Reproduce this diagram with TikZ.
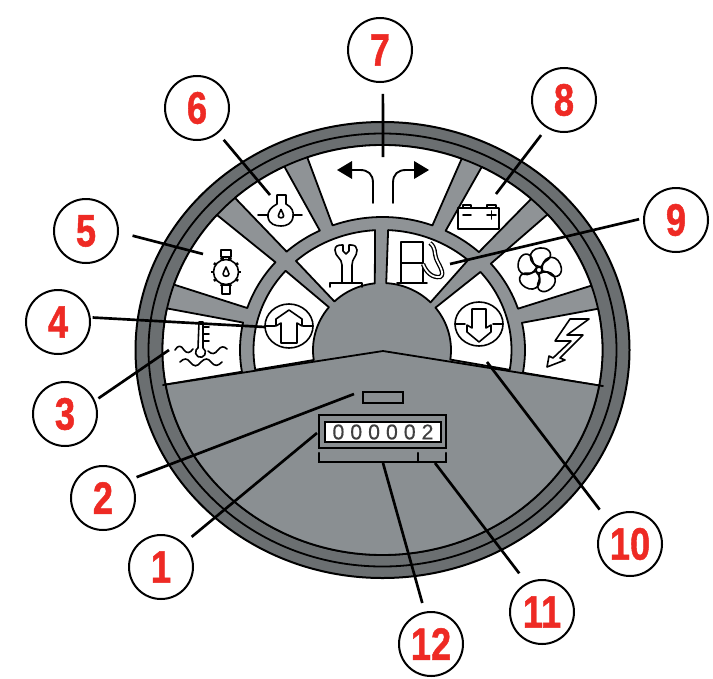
\documentclass[tikz,border=0pt]{standalone}
\usepackage{fontspec}
\usepackage{graphicx}
\usetikzlibrary{calc}
\setmainfont[BoldFeatures={FakeBold=1.2}]{Liberation Sans}
\newfontfamily\meterfont[LetterSpace=28,FakeBold=.4]{Liberation Sans}
\definecolor{rimgray}{HTML}{6B6F71}
\definecolor{bandgray}{HTML}{8F9396}
\definecolor{lowgray}{HTML}{8A8F92}
\definecolor{numred}{HTML}{EE2A24}
\tikzset{
  callout/.style={circle,draw=black,line width=1.5pt,fill=white,minimum size=48pt,inner sep=0pt,text=numred,font=\fontsize{34}{34}\bfseries},
  leader/.style={draw=black,line width=2pt},
  outl/.style={draw=black,line width=1.35pt,line join=round},
  cellbox/.style={outl,fill=white},
  icon/.style={draw=black,line width=1.2pt,line join=round,line cap=round},
  solidtip/.style={fill=black,draw=none}
}
% cell: outer arc (rx ry from to), then inner arc (cx rx ry from to), straight sides
\newcommand\wedgecell[9]{%
  \path[cellbox] plot[domain=#3:#4,samples=30] ({382.5+#1*cos(\x)},{350+#2*sin(\x)})
    -- plot[domain=#8:#9,samples=30] ({#5+#6*cos(\x)},{350+#7*sin(\x)}) -- cycle;}
\newcommand\oildrop[3]{%
  \draw[icon,shift={(#1,#2)},scale=#3] (0,-5) .. controls (1,-2) and (3,0) .. (3,2) .. controls (3,5) and (-3,5) .. (-3,2) .. controls (-3,0) and (-1,-2) .. (0,-5) -- cycle;}
\newcommand\bignum[1]{\scalebox{.8}[1]{#1}}
\begin{document}
\begin{tikzpicture}[x=.75pt,y=-.75pt]
\useasboundingbox (0,0) rectangle (713,678);
\fill[white] (0,0) rectangle (713,678);
% rim
\coordinate (hubc) at (382.5,350);
\path[fill=rimgray,outl,line width=1.5pt] (hubc) ellipse [x radius=247,y radius=228];
\path[outl] (hubc) ellipse [x radius=234,y radius=216.5];
\path[fill=bandgray,outl] (hubc) ellipse [x radius=220,y radius=205];
% hub
\fill[lowgray] (382,350) ellipse [x radius=69,y radius=67];
% outer cells
\wedgecell{220}{205}{170.3}{191.7}{382.5}{142.5}{133}{191.9}{170.6}
\wedgecell{220}{205}{198.6}{221.2}{382.5}{142.5}{133}{221.3}{198.4}
\wedgecell{220}{205}{227.9}{243.5}{382.5}{142.5}{133}{243.9}{227.7}
\wedgecell{220}{205}{250}{291.1}{382.5}{142.5}{133}{290.5}{249.5}
\wedgecell{220}{205}{296.8}{312.5}{382.5}{142.5}{133}{312.6}{296.3}
\wedgecell{220}{205}{318.6}{341.7}{382.5}{142.5}{133}{341.9}{319.5}
\wedgecell{220}{205}{348.4}{370}{382.5}{142.5}{133}{369.8}{348.2}
% inner cells
\wedgecell{129}{120}{170.5}{221.3}{382}{69}{67}{219.7}{171.4}
\wedgecell{129}{120}{227.9}{266.7}{382}{69}{67}{264}{226.4}
\wedgecell{129}{120}{272.5}{311.5}{382}{69}{67}{314.7}{273.5}
\wedgecell{129}{120}{319.4}{369.5}{382}{69}{67}{368.2}{320.8}
% lower panel
\path[outl,fill=lowgray] (163,385) -- (383,351) -- (603,386)
  -- plot[domain=10:170.3,samples=80] ({382.5+220*cos(\x)},{350+205*sin(\x)}) -- cycle;
% turn arrows
\draw[icon,line width=1.4pt] (373,203) -- (373,183) .. controls (373,174) and (368,170) .. (360,170) -- (350,170);
\draw[icon,line width=1.4pt] (393,203) -- (393,183) .. controls (393,174) and (398,170) .. (406,170) -- (416,170);
\fill[solidtip] (337,170) -- (352,161) -- (352,179) -- cycle;
\fill[solidtip] (429,170) -- (414,161) -- (414,179) -- cycle;
% thermometer and waves
\draw[icon] (199,322) -- (203,322) -- (203,348) arc[start angle=-60,end angle=240,radius=5] -- (199,322);
\draw[icon] (203,327) -- (209,327) (203,334) -- (209,334) (203,341) -- (209,341);
\draw[icon] (175,350) .. controls (178,345) and (181,345) .. (184,350) .. controls (187,354) and (190,353) .. (193,349);
\draw[icon] (208,351) .. controls (212,355) and (215,354) .. (218,350) .. controls (221,346) and (224,346) .. (227,349);
\draw[icon] (180,362) .. controls (184,358) and (187,358) .. (190,362) .. controls (194,367) and (197,367) .. (201,362) .. controls (205,358) and (208,358) .. (211,362) .. controls (215,367) and (218,366) .. (222,362);
% oil filter
\draw[icon] (226,272) circle [radius=12.5];
\foreach \a in {0,36,...,324}{\draw[icon,line width=1.9pt,line cap=butt] ($(226,272)+(\a:12.5)$) -- ($(226,272)+(\a:15)$);}
\draw[icon] (221,250) rectangle (231,257);
\draw[icon] (223,257) -- (223,260) (229,257) -- (229,260);
\draw[icon] (222,285) rectangle (230,294);
\oildrop{226}{272}{1}
% oil lamp
\draw[icon] (277,195) -- (286,195) -- (286,204) .. controls (292,207) and (294,212) .. (293,217) .. controls (292,224) and (286,226) .. (281,226) .. controls (275,226) and (269,224) .. (268,217) .. controls (267,212) and (271,207) .. (277,204) -- cycle;
\draw[icon] (258,215) -- (268,215) (293,215) -- (302,215);
\oildrop{281}{214}{.9}
% up arrow
\draw[icon] (289,326) ellipse [x radius=24,y radius=22];
\draw[icon] (265,326) -- (275,326) (303,326) -- (313,326);
\path[fill=white,icon] (289,310) -- (302,319) -- (302,326) -- (297,323) -- (297,343) -- (281,343) -- (281,323) -- (276,326) -- (276,319) -- cycle;
% wrench
\draw[icon] (342,282) -- (342,265) .. controls (342,258) and (335,257) .. (335,250) .. controls (335,246) and (338,245) .. (342,245) -- (343,245) -- (343,251) -- (346,254) -- (349,251) -- (349,245) -- (351,245) .. controls (355,245) and (357,247) .. (357,250) .. controls (357,257) and (352,258) .. (352,265) -- (352,282);
\draw[icon] (330,287) -- (330,283) -- (362,283) -- (362,287);
% fuel pump
\draw[icon] (401,283) -- (401,242) -- (423,242) -- (423,283);
\draw[icon] (401,263) -- (423,263);
\draw[icon] (397,283) -- (427,283);
\draw[black,double=white,double distance=1.3pt,line width=1pt] (423,264) .. controls (426,272) and (432,278) .. (440,277) .. controls (446,274) and (438,264) .. (436,258) .. controls (434,252) and (436,248) .. (430,243);
% battery
\draw[icon] (458,208) rectangle (499,229);
\draw[icon] (463,208) -- (463,205) -- (471,205) -- (471,208) (487,208) -- (487,205) -- (496,205) -- (496,208);
\draw[icon] (463,215) -- (471,215) (487,215) -- (496,215) (491.5,211) -- (491.5,219);
% fan
\foreach \r in {0,72,144,216,288}{
  \draw[icon,shift={(539,270)},rotate=\r] (2,-3) .. controls (-12,-5) and (-12,-21) .. (1,-22) .. controls (12,-23) and (15,-13) .. (7,-9) .. controls (4,-7) and (3,-5) .. (2,-3);}
\draw[icon] (539,270) circle [radius=3];
% lightning
\draw[icon] (589,319) -- (570,319) -- (555,341) -- (571,341) -- (553,358) -- (549,356) -- (547,367) -- (565,360) -- (560,358) -- (583,335) -- (567,335) -- cycle;
% down arrow
\draw[icon] (479,324) ellipse [x radius=24,y radius=22];
\draw[icon] (455,324) -- (465,324) (493,324) -- (503,324);
\path[fill=white,icon] (472,309) -- (486,309) -- (486,328) -- (491,325) -- (491,332) -- (479,342) -- (467,332) -- (467,325) -- (472,328) -- cycle;
% meter
\node[draw=black,line width=1.3pt,minimum width=30pt,minimum height=8.25pt,inner sep=0pt] (lamp) at (383,397.5) {};
\node[draw=black,line width=1.4pt,minimum width=95.25pt,minimum height=24.75pt,inner sep=0pt] (meterbox) at (382.5,431.5) {};
\node[draw=black,line width=1.2pt,fill=white,minimum width=87pt,minimum height=15pt,inner sep=0pt,text=black!75,font=\fontsize{16}{16}\meterfont] (meter) at (383,432) {000002};
\draw[line width=1.7pt,line cap=round] (319,453) -- (319,462) -- (446,462) -- (446,453) (418,453) -- (418,462);
% targets
\coordinate (t1) at (317,433);
\coordinate (t2) at (354,394);
\coordinate (t3) at (169,350);
\coordinate (t4) at (265,327);
\coordinate (t5) at (203,254);
\coordinate (t6) at (270,195);
\coordinate (t7) at (383,157);
\coordinate (t8) at (496,194);
\coordinate (t9) at (450,264);
\coordinate (t10) at (487,362);
\coordinate (t11) at (435,463);
\coordinate (t12) at (383,463);
% callouts
\node[callout] (c1) at (161,567) {\bignum{1}};
\node[callout] (c2) at (103,498) {\bignum{2}};
\node[callout] (c3) at (65,414) {\bignum{3}};
\node[callout] (c4) at (58,322) {\bignum{4}};
\node[callout] (c5) at (86,231) {\bignum{5}};
\node[callout] (c6) at (197,108) {\bignum{6}};
\node[callout] (c7) at (380,50) {\bignum{7}};
\node[callout] (c8) at (564,100) {\bignum{8}};
\node[callout] (c9) at (676,220) {\bignum{9}};
\node[callout] (c10) at (630,544) {\bignum{10}};
\node[callout] (c11) at (542,612) {\bignum{11}};
\node[callout] (c12) at (431,644) {\bignum{12}};
% leaders
\draw[leader,shorten <=7.5pt] (c1.46) -- (t1);
\draw[leader,shorten <=5pt] (c2.34) -- (t2);
\draw[leader,shorten <=3pt] (c3.24) -- (t3);
\draw[leader,shorten <=1.5pt] (c4.8) -- (t4);
\draw[leader,shorten <=10.5pt] (c5.-2) -- (t5);
\draw[leader,shorten <=6.4pt] (c6.-50) -- (t6);
\draw[leader,shorten <=8.2pt] (c7.-85) -- (t7);
\draw[leader,shorten <=6.7pt] (c8.238) -- (t8);
\draw[leader,shorten <=3pt] (c9.177) -- (t9);
\draw[leader,shorten <=9.7pt] (c10.133) -- (t10);
\draw[leader,shorten <=9pt] (c11.118) -- (t11);
\draw[leader,shorten <=6.7pt] (c12.101) -- (t12);
\end{tikzpicture}
\end{document}
